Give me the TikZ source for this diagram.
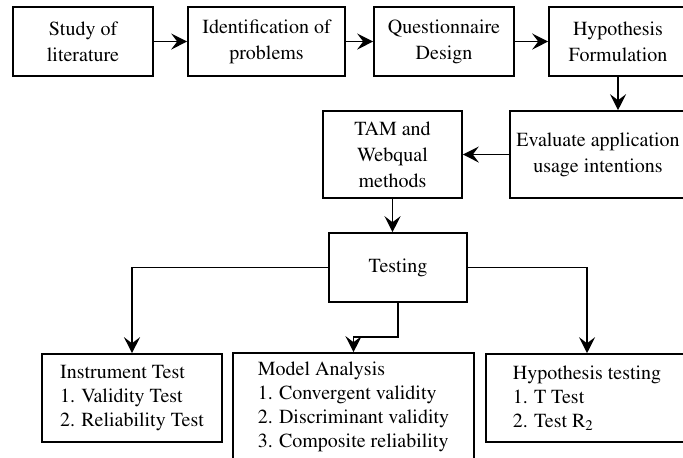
\documentclass[tikz,border=0pt]{standalone}
\usepackage[T1]{fontenc}
\usepackage{mathptmx}
\usetikzlibrary{arrows.meta,calc}
\tikzset{
  stage/.style={rectangle,draw=black,line width=0.8pt,align=center,inner sep=1pt,
    font=\fontsize{10}{13}\selectfont,fill=white},
  listbox/.style={stage,align=left,font=\fontsize{10}{12}\selectfont},
  flow/.style={-{Stealth[length=8pt,width=8pt,inset=3pt]},line width=0.8pt}
}

\begin{document}
\begin{tikzpicture}[x=0.5pt,y=-0.5pt]
  \useasboundingbox (0,0) rectangle (683,457);
  \clip (0,0) rectangle (683,457);
  \node[stage,minimum width=70pt,minimum height=34.5pt] (lit) at (83,41.5) {Study of\\literature};
  \node[stage,minimum width=78.5pt,minimum height=34.5pt] (ident) at (266.5,41.5) {Identification of\\problems};
  \node[stage,minimum width=70pt,minimum height=34.5pt] (quest) at (444,41.5) {Questionnaire\\Design};
  \node[stage,minimum width=69pt,minimum height=34.5pt] (hypo) at (618,41.5) {Hypothesis\\Formulation};
  \node[stage,minimum width=88pt,minimum height=43.5pt] (eval) at (598,154.5) {Evaluate application\\usage intentions};
  \node[stage,minimum width=69.5pt,minimum height=43.5pt] (tam) at (392.5,154.5) {TAM and\\Webqual\\methods};
  \node[stage,minimum width=69pt,minimum height=34.5pt] (test) at (398,267.5) {Testing};
  \node[listbox,minimum width=90pt,minimum height=44pt] (inst) at (132,398) {Instrument Test\\1. Validity Test\\2. Reliability Test};
  \node[listbox,minimum width=120.5pt,minimum height=53.5pt] (model) at (353.5,406.5) {Model Analysis\\1. Convergent validity\\2. Discriminant validity\\3. Composite reliability};
  \node[listbox,minimum width=101pt,minimum height=44pt] (hypt) at (587,398) {Hypothesis testing\\1. T Test\\2. Test R\textsubscript{2}};

  \draw[flow] (lit) -- (ident);
  \draw[flow] (ident) -- (quest);
  \draw[flow] (quest) -- (hypo);
  \draw[flow] (hypo.south) -- (hypo.south |- eval.north);
  \draw[flow] (eval) -- (tam);
  \draw[flow] (tam.south) -- (tam.south |- test.north);
  \draw[flow] (test.west) -| (inst.north);
  \draw[flow] (test.east) -| (hypt.north);
  \draw[flow] (test.south) -- ++(0,34) -| (model.north);
\end{tikzpicture}
\end{document}
